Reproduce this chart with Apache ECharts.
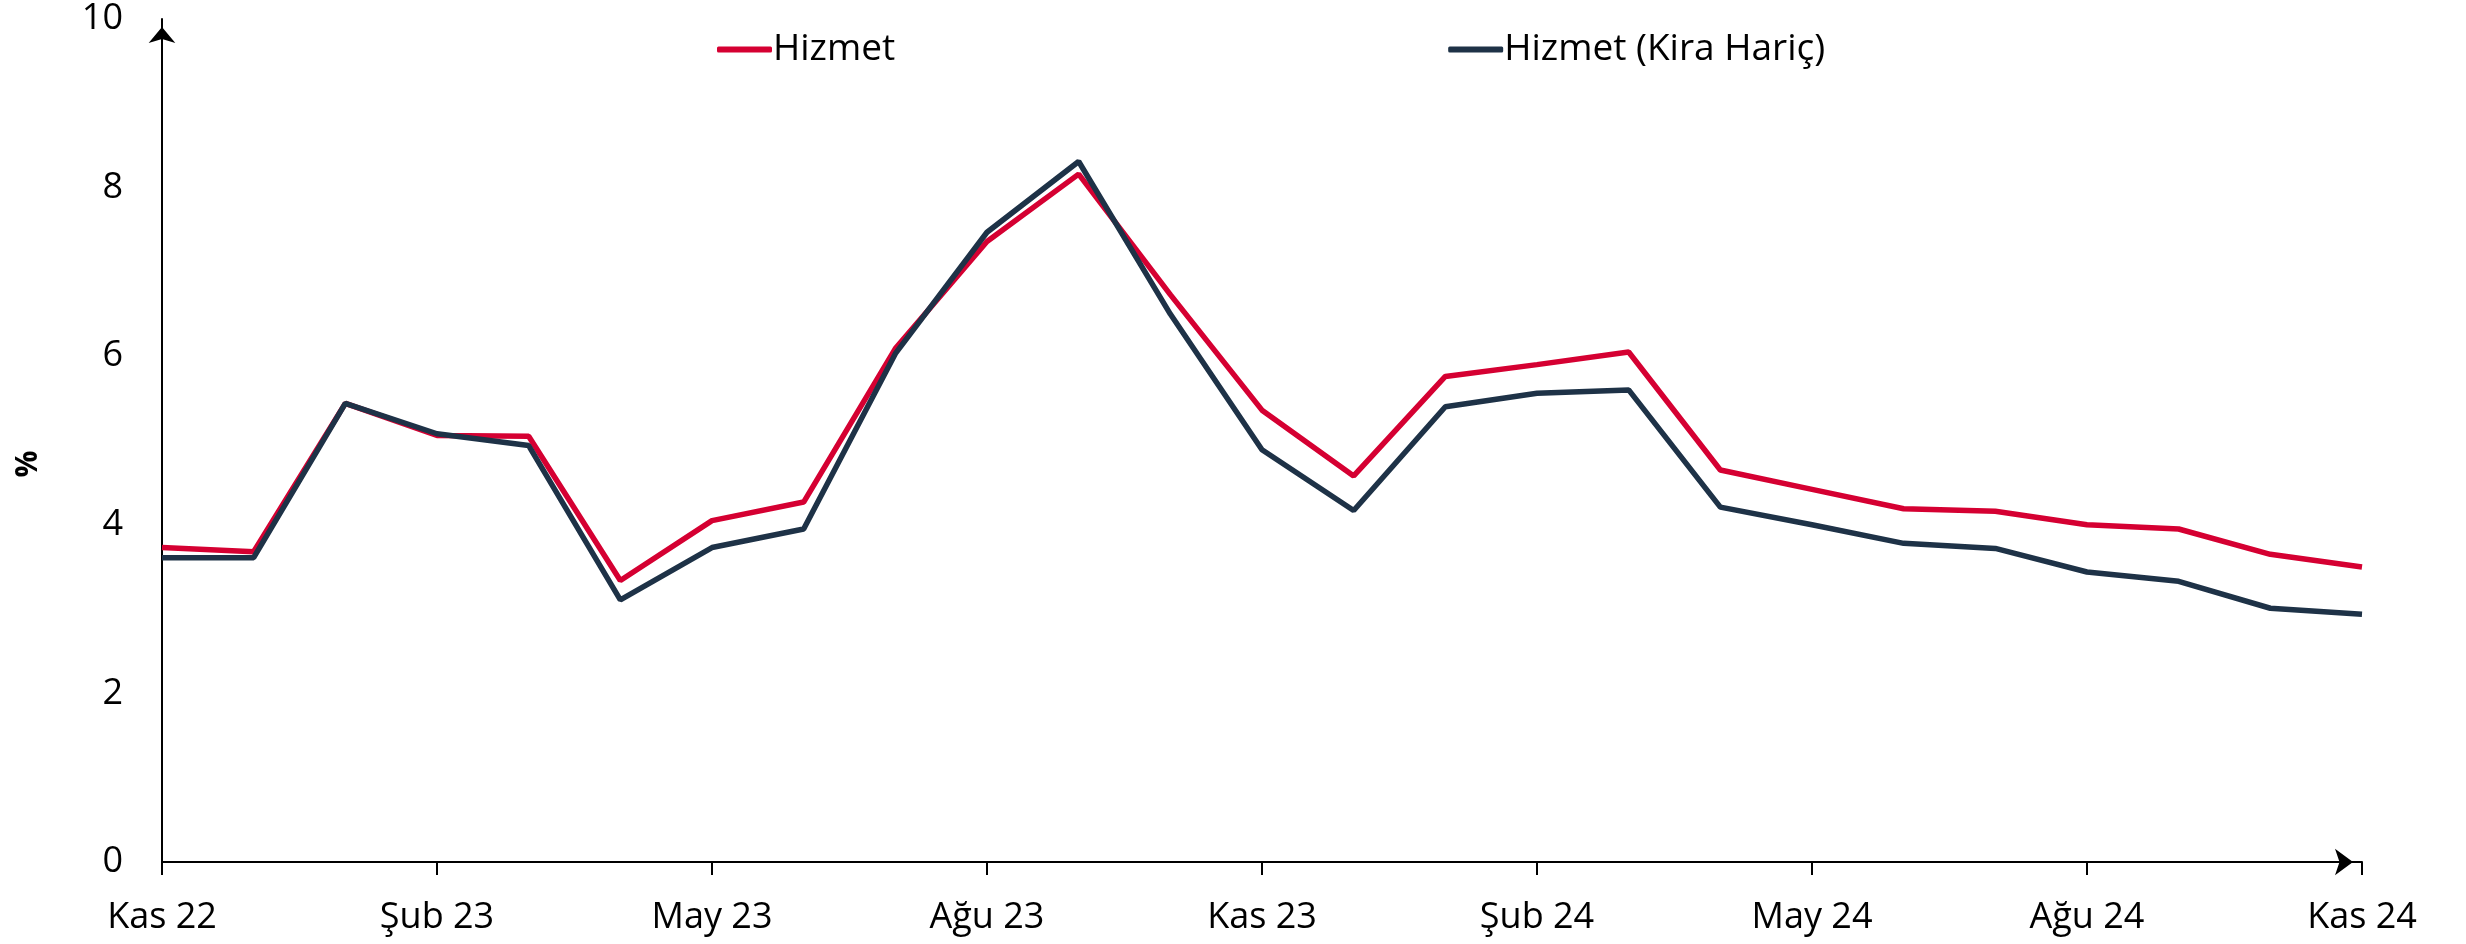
<!DOCTYPE html>
<html>
<head>
<meta charset="utf-8">
<script src="https://cdn.jsdelivr.net/npm/echarts@6/dist/echarts.min.js"></script>
<style>
html,body{margin:0;padding:0;background:#fff;}
#c{width:2466px;height:944px;}
</style>
</head>
<body>
<div id="c"></div>
<script>
const categories = ['Kas 22','Ara 22','Oca 23','Şub 23','Mar 23','Nis 23','May 23','Haz 23','Tem 23','Ağu 23','Eyl 23','Eki 23',
  'Kas 23','Ara 23','Oca 24','Şub 24','Mar 24','Nis 24','May 24','Haz 24','Tem 24','Ağu 24','Eyl 24','Eki 24','Kas 24'];
const hizmet = [3.73,3.68,5.44,5.06,5.05,3.34,4.05,4.27,6.09,7.36,8.16,6.73,5.36,4.58,5.76,5.90,6.05,4.65,4.42,4.19,4.16,4.00,3.95,3.65,3.50];
const hizmetKiraHaric = [3.61,3.61,5.44,5.08,4.94,3.11,3.73,3.95,6.03,7.47,8.31,6.50,4.89,4.17,5.40,5.56,5.60,4.21,4.00,3.78,3.72,3.44,3.33,3.01,2.94];
const seriesNames = ['Hizmet','Hizmet (Kira Hariç)'];
const yTicks = {min:0, max:10, interval:2};
const yName = '%';

const font = 'Open Sans';
const chart = echarts.init(document.getElementById('c'), null, {renderer:'canvas'});
chart.setOption({
  animation:false,
  backgroundColor:'#ffffff',
  grid:{left:162, right:104, top:19, bottom:82, containLabel:false},
  legend:{
    left:712, top:26, itemWidth:55, itemHeight:6, itemGap:553,
    icon:'roundRect',
    textStyle:{fontFamily:font, fontSize:37, color:'#000', padding:[0,0,0,-4]},
    data:seriesNames
  },
  xAxis:{
    type:'category', data:categories, boundaryGap:false,
    axisLine:{lineStyle:{color:'#000', width:2}, symbol:['none','arrow'], symbolSize:[20,18], symbolOffset:[0,-9]},
    axisTick:{show:true, interval:2, length:13, lineStyle:{color:'#000', width:2}},
    axisLabel:{interval:2, margin:38, fontFamily:font, fontSize:36, color:'#000'},
    splitLine:{show:false}
  },
  yAxis:{
    type:'value', min:yTicks.min, max:yTicks.max, interval:yTicks.interval,
    axisLine:{show:true, lineStyle:{color:'#000', width:2}, symbol:['none','arrow'], symbolSize:[20,16], symbolOffset:[0,-8]},
    axisTick:{show:false},
    axisLabel:{margin:39, fontFamily:font, fontSize:36, color:'#000'},
    splitLine:{show:false}
  },
  graphic:[{
    type:'text', x:28, y:464, rotation:Math.PI/2,
    style:{text:yName, fontFamily:font, fontSize:30, fontWeight:'bold', fill:'#000', align:'center', verticalAlign:'middle'}
  }],
  series:[
    {name:seriesNames[0], type:'line', data:hizmet, showSymbol:false, symbol:'none',
     lineStyle:{color:'#d50032', width:5.5}, itemStyle:{color:'#d50032'}},
    {name:seriesNames[1], type:'line', data:hizmetKiraHaric, showSymbol:false, symbol:'none',
     lineStyle:{color:'#1e3247', width:5.5}, itemStyle:{color:'#1e3247'}}
  ]
});
</script>
</body>
</html>
